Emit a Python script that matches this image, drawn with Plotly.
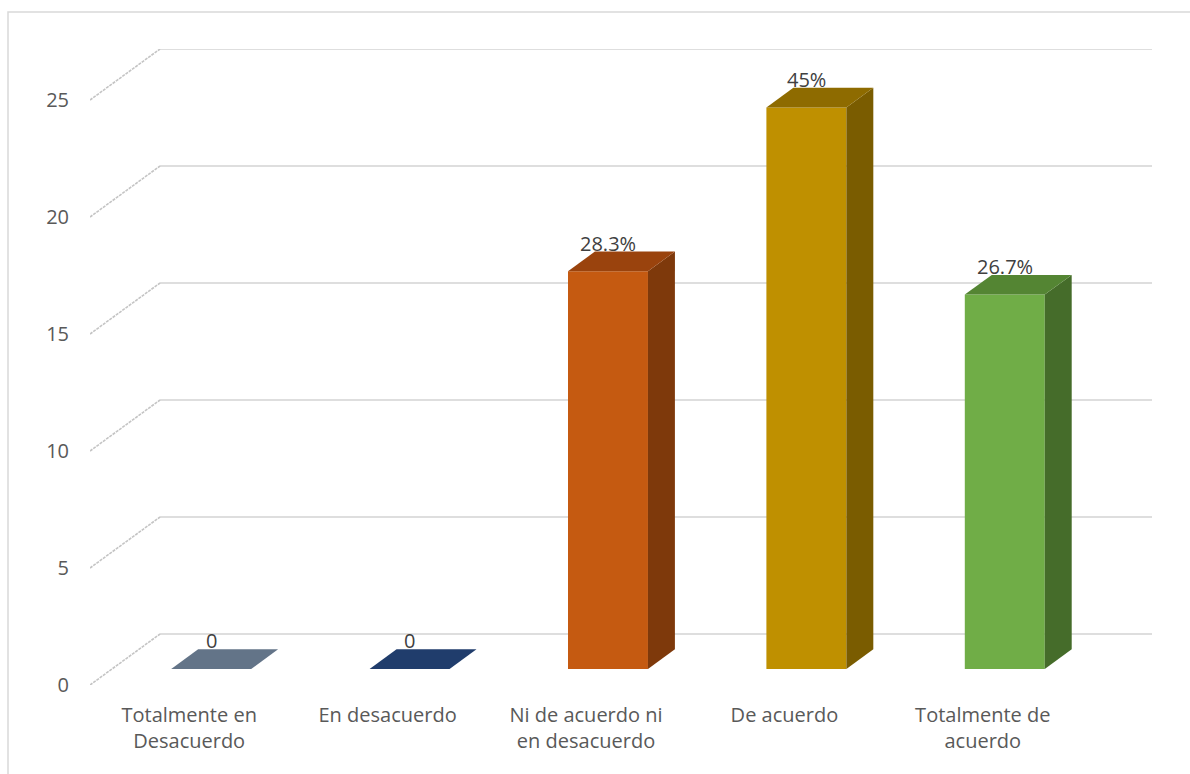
import plotly.graph_objects as go

# Survey responses (counts) and the percentage labels shown on each bar
categories = [
    "Totalmente en<br>Desacuerdo",
    "En desacuerdo",
    "Ni de acuerdo ni<br>en desacuerdo",
    "De acuerdo",
    "Totalmente de<br>acuerdo",
]
counts = [0, 0, 17, 24, 16]
value_labels = ["0", "0", "28.3%", "45%", "26.7%"]

y_ticks = [0, 5, 10, 15, 20, 25]

# Face colours per bar: front, top, side
front_colors = ["#7D8CA0", "#2A4B80", "#C55A11", "#BF9000", "#70AD47"]
top_colors = ["#637488", "#203D6C", "#9A430D", "#8E6B00", "#548533"]
side_colors = ["#4F5E70", "#172D52", "#7E390B", "#7A5C00", "#456C2A"]

# Oblique-projection geometry in axis units
W, H = 1190, 774
ML, MR, MT, MB = 90, 38, 49, 89
PX_PER_CAT = 198.4          # horizontal pixels per category
DEPTH_PX = (70, 51)         # depth of the floor/walls in pixels
DX = DEPTH_PX[0] / PX_PER_CAT
Y_MAX = 25
PX_PER_UNIT = (H - MT - MB - DEPTH_PX[1]) / Y_MAX
DY = DEPTH_PX[1] / PX_PER_UNIT
BAR_W = 0.403               # bar width in category units
FRONT = 0.314               # depth fraction where bar front sits
DEPTH = 0.385               # bar depth as fraction of floor depth

fig = go.Figure()

grid_color = "#D3D3D3"
x_left = -0.5
x_right = len(categories) - 0.5

# Back wall gridlines and left wall lines
for v in y_ticks:
    fig.add_trace(go.Scatter(
        x=[x_left + DX, x_right + DX], y=[v + DY, v + DY],
        mode="lines", line=dict(color=grid_color, width=1.6),
        hoverinfo="skip", showlegend=False))
    fig.add_trace(go.Scatter(
        x=[x_left, x_left + DX], y=[v, v + DY],
        mode="lines", line=dict(color="#C4C4C4", width=1.6, dash="3px,1px"),
        hoverinfo="skip", showlegend=False))


def poly(xs, ys, color):
    fig.add_trace(go.Scatter(
        x=xs + [xs[0]], y=ys + [ys[0]], mode="lines", fill="toself",
        fillcolor=color, line=dict(width=0, color=color),
        hoverinfo="skip", showlegend=False))


ddx, ddy = DEPTH * DX, DEPTH * DY
for i, v in enumerate(counts):
    cx = i + FRONT * DX
    x0, x1 = cx - BAR_W / 2, cx + BAR_W / 2
    y0 = FRONT * DY
    y1 = y0 + v
    if v > 0:
        poly([x0, x1, x1, x0], [y0, y0, y1, y1], front_colors[i])
        poly([x1, x1 + ddx, x1 + ddx, x1], [y0, y0 + ddy, y1 + ddy, y1], side_colors[i])
    poly([x0, x1, x1 + ddx, x0 + ddx], [y1, y1, y1 + ddy, y1 + ddy], top_colors[i])
    fig.add_annotation(
        x=cx, y=y1 + ddy, text=value_labels[i], showarrow=False,
        yanchor="bottom", yshift=-7,
        font=dict(family="Open Sans", size=20, color="#404040"))

# Chart-area border
fig.add_shape(
    type="rect", xref="paper", yref="paper",
    x0=(8 - ML) / (W - ML - MR), x1=(W + 10 - ML) / (W - ML - MR),
    y0=-(MB + 10) / (H - MT - MB), y1=(H - MB - 12) / (H - MT - MB),
    line=dict(color="#D9D9D9", width=1.5), layer="below")

fig.update_layout(
    width=W, height=H,
    margin=dict(l=ML, r=MR, t=MT, b=MB),
    plot_bgcolor="white", paper_bgcolor="white",
    font=dict(family="Open Sans", size=20, color="#595959"),
    xaxis=dict(
        range=[x_left, x_right + DX], tickmode="array",
        tickvals=list(range(len(categories))), ticktext=categories,
        showgrid=False, zeroline=False, showline=False, ticks="",
        ticklabelstandoff=16, fixedrange=True),
    yaxis=dict(
        range=[0, Y_MAX + DY], tickmode="array", tickvals=y_ticks,
        showgrid=False, zeroline=False, showline=False, ticks="",
        ticklabelstandoff=20, fixedrange=True),
)

fig.write_html("out.html")
